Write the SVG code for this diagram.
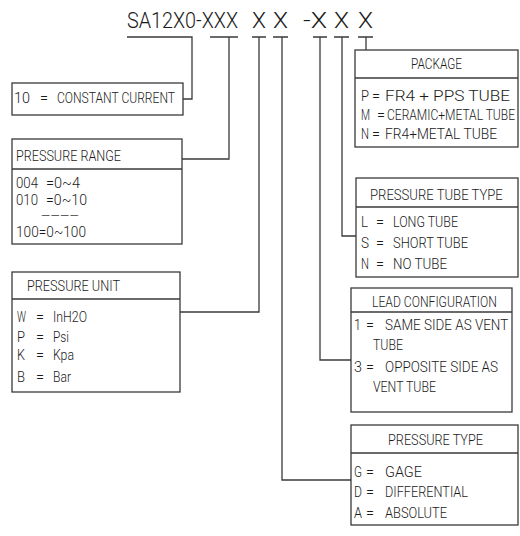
<svg xmlns="http://www.w3.org/2000/svg" width="520" height="536" viewBox="0 0 520 536">
<style>
.box{fill:#fff;stroke:#3a3a3a;stroke-width:1.3}
.div{stroke:#3a3a3a;stroke-width:1.3}
.con{fill:none;stroke:#3a3a3a;stroke-width:1.3}
text{font-family:Roboto,"Liberation Sans",Arial,sans-serif;font-weight:300;font-size:15.5px;fill:#1a1a1a}
.t{font-size:22.5px}
.d{font-size:12px}
</style>
<rect width="520" height="536" fill="#fff"/>
<g id="title">
<text class="t" y="28"><tspan x="127" textLength="111" lengthAdjust="spacingAndGlyphs">SA12X0-XXX</tspan> <tspan x="252" textLength="14" lengthAdjust="spacingAndGlyphs">X</tspan> <tspan x="273" textLength="15" lengthAdjust="spacingAndGlyphs">X</tspan> <tspan x="303" textLength="24" lengthAdjust="spacingAndGlyphs">-X</tspan> <tspan x="334" textLength="15" lengthAdjust="spacingAndGlyphs">X</tspan> <tspan x="358" textLength="15" lengthAdjust="spacingAndGlyphs">X</tspan></text>
</g>
<g id="connectors">
<path class="con" d="M127 37H192V99H183"/>
<path class="con" d="M210 37H238M229 37V159H182"/>
<path class="con" d="M252 37H266M259 37V312H180"/>
<path class="con" d="M273 37H288M282 37V480H351"/>
<path class="con" d="M313 37H327M320 37V360H351"/>
<path class="con" d="M334 37H349M342 37V236H356"/>
<path class="con" d="M358 37H373M366 37V50"/>
</g>
<g id="constant-current">
<rect class="box" x="12" y="83" width="171" height="32"/>
<text y="103"><tspan x="14" textLength="16" lengthAdjust="spacingAndGlyphs">10</tspan> <tspan x="40" textLength="8" lengthAdjust="spacingAndGlyphs">=</tspan> <tspan x="57" textLength="118" lengthAdjust="spacingAndGlyphs">CONSTANT CURRENT</tspan></text>
</g>
<g id="pressure-range">
<rect class="box" x="12" y="139" width="170" height="105"/>
<line class="div" x1="12" y1="169" x2="182" y2="169"/>
<text x="16" y="161" textLength="105" lengthAdjust="spacingAndGlyphs">PRESSURE RANGE</text>
<text y="188"><tspan x="16" textLength="22" lengthAdjust="spacingAndGlyphs">004</tspan> <tspan x="46" textLength="34" lengthAdjust="spacingAndGlyphs">=0~4</tspan></text>
<text y="205"><tspan x="16" textLength="22" lengthAdjust="spacingAndGlyphs">010</tspan> <tspan x="46" textLength="41" lengthAdjust="spacingAndGlyphs">=0~10</tspan></text>
<text class="d" x="41" y="220" textLength="38" lengthAdjust="spacingAndGlyphs">----</text>
<text x="16" y="237" textLength="70" lengthAdjust="spacingAndGlyphs">100=0~100</text>
</g>
<g id="pressure-unit">
<rect class="box" x="12" y="272" width="168" height="120"/>
<line class="div" x1="12" y1="299" x2="180" y2="299"/>
<text x="27" y="291" textLength="93" lengthAdjust="spacingAndGlyphs">PRESSURE UNIT</text>
<text y="322"><tspan x="17" textLength="9" lengthAdjust="spacingAndGlyphs">W</tspan> <tspan x="36" textLength="8" lengthAdjust="spacingAndGlyphs">=</tspan> <tspan x="53" textLength="34" lengthAdjust="spacingAndGlyphs">InH2O</tspan></text>
<text y="342"><tspan x="17" textLength="8" lengthAdjust="spacingAndGlyphs">P</tspan> <tspan x="36" textLength="8" lengthAdjust="spacingAndGlyphs">=</tspan> <tspan x="53" textLength="16" lengthAdjust="spacingAndGlyphs">Psi</tspan></text>
<text y="360"><tspan x="17" textLength="8" lengthAdjust="spacingAndGlyphs">K</tspan> <tspan x="36" textLength="8" lengthAdjust="spacingAndGlyphs">=</tspan> <tspan x="53" textLength="21" lengthAdjust="spacingAndGlyphs">Kpa</tspan></text>
<text y="382"><tspan x="17" textLength="8" lengthAdjust="spacingAndGlyphs">B</tspan> <tspan x="36" textLength="8" lengthAdjust="spacingAndGlyphs">=</tspan> <tspan x="53" textLength="18" lengthAdjust="spacingAndGlyphs">Bar</tspan></text>
</g>
<g id="package">
<rect class="box" x="355" y="50" width="163" height="97"/>
<line class="div" x1="355" y1="78" x2="518" y2="78"/>
<text x="411" y="69" textLength="51" lengthAdjust="spacingAndGlyphs">PACKAGE</text>
<text y="101"><tspan x="361" textLength="8" lengthAdjust="spacingAndGlyphs">P</tspan> <tspan x="372" textLength="8" lengthAdjust="spacingAndGlyphs">=</tspan> <tspan x="385" textLength="125" lengthAdjust="spacingAndGlyphs">FR4 + PPS TUBE</tspan></text>
<text y="120"><tspan x="361" textLength="9" lengthAdjust="spacingAndGlyphs">M</tspan> <tspan x="377" textLength="8" lengthAdjust="spacingAndGlyphs">=</tspan></text>
<text transform="translate(387,120) scale(0.8,1)" textLength="160" lengthAdjust="spacingAndGlyphs">CERAMIC+METAL TUBE</text>
<text y="139"><tspan x="361" textLength="8" lengthAdjust="spacingAndGlyphs">N</tspan> <tspan x="372" textLength="8" lengthAdjust="spacingAndGlyphs">=</tspan> <tspan x="385" textLength="112" lengthAdjust="spacingAndGlyphs">FR4+METAL TUBE</tspan></text>
</g>
<g id="pressure-tube-type">
<rect class="box" x="356" y="178" width="162" height="99"/>
<line class="div" x1="356" y1="207" x2="518" y2="207"/>
<text transform="translate(370,200) scale(0.8,1)" textLength="166" lengthAdjust="spacingAndGlyphs">PRESSURE TUBE TYPE</text>
<text y="227"><tspan x="361" textLength="7" lengthAdjust="spacingAndGlyphs">L</tspan> <tspan x="376" textLength="8" lengthAdjust="spacingAndGlyphs">=</tspan> <tspan x="393" textLength="65" lengthAdjust="spacingAndGlyphs">LONG TUBE</tspan></text>
<text y="248"><tspan x="361" textLength="8" lengthAdjust="spacingAndGlyphs">S</tspan> <tspan x="376" textLength="8" lengthAdjust="spacingAndGlyphs">=</tspan> <tspan x="393" textLength="75" lengthAdjust="spacingAndGlyphs">SHORT TUBE</tspan></text>
<text y="269"><tspan x="361" textLength="8" lengthAdjust="spacingAndGlyphs">N</tspan> <tspan x="376" textLength="8" lengthAdjust="spacingAndGlyphs">=</tspan> <tspan x="393" textLength="54" lengthAdjust="spacingAndGlyphs">NO TUBE</tspan></text>
</g>
<g id="lead-configuration">
<rect class="box" x="351" y="288" width="161" height="124"/>
<line class="div" x1="351" y1="312" x2="512" y2="312"/>
<text transform="translate(372,307) scale(0.8,1)" textLength="156" lengthAdjust="spacingAndGlyphs">LEAD CONFIGURATION</text>
<text y="330"><tspan x="354" textLength="7" lengthAdjust="spacingAndGlyphs">1</tspan> <tspan x="366" textLength="8" lengthAdjust="spacingAndGlyphs">=</tspan></text>
<text transform="translate(385,330) scale(0.85,1)" textLength="145" lengthAdjust="spacingAndGlyphs">SAME SIDE AS VENT</text>
<text x="373" y="350" textLength="30" lengthAdjust="spacingAndGlyphs">TUBE</text>
<text y="372"><tspan x="354" textLength="8" lengthAdjust="spacingAndGlyphs">3</tspan> <tspan x="366" textLength="8" lengthAdjust="spacingAndGlyphs">=</tspan> <tspan x="385" textLength="113" lengthAdjust="spacingAndGlyphs">OPPOSITE SIDE AS</tspan></text>
<text x="373" y="392" textLength="63" lengthAdjust="spacingAndGlyphs">VENT TUBE</text>
</g>
<g id="pressure-type">
<rect class="box" x="351" y="425" width="167" height="100"/>
<line class="div" x1="351" y1="453" x2="518" y2="453"/>
<text x="388" y="445" textLength="95" lengthAdjust="spacingAndGlyphs">PRESSURE TYPE</text>
<text y="477"><tspan x="354" textLength="8" lengthAdjust="spacingAndGlyphs">G</tspan> <tspan x="366" textLength="8" lengthAdjust="spacingAndGlyphs">=</tspan> <tspan x="385" textLength="37" lengthAdjust="spacingAndGlyphs">GAGE</tspan></text>
<text y="497"><tspan x="354" textLength="8" lengthAdjust="spacingAndGlyphs">D</tspan> <tspan x="366" textLength="8" lengthAdjust="spacingAndGlyphs">=</tspan> <tspan x="385" textLength="83" lengthAdjust="spacingAndGlyphs">DIFFERENTIAL</tspan></text>
<text y="518"><tspan x="354" textLength="8" lengthAdjust="spacingAndGlyphs">A</tspan> <tspan x="366" textLength="8" lengthAdjust="spacingAndGlyphs">=</tspan> <tspan x="385" textLength="62" lengthAdjust="spacingAndGlyphs">ABSOLUTE</tspan></text>
</g>
</svg>
